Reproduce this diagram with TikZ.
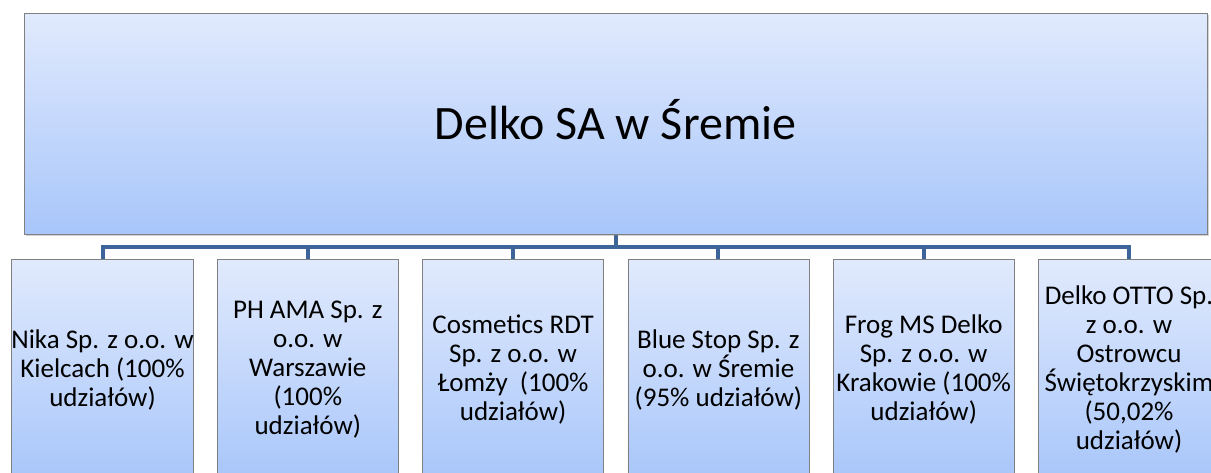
\documentclass[tikz,border=0pt]{standalone}
\usepackage{fontspec}
\setmainfont{Carlito}
\usetikzlibrary{shadows,backgrounds}
\definecolor{boxtop}{RGB}{225,234,253}
\definecolor{boxbot}{RGB}{168,198,250}
\definecolor{linkblue}{RGB}{61,101,153}

\begin{document}
\begin{tikzpicture}[x=1pt, y=-1pt,
        firm/.style={draw=black!50, top color=boxtop, bottom color=boxbot, inner sep=0pt, align=center},
        link/.style={draw=linkblue, line width=4pt}]
        \clip (0, 0) rectangle (1211, 472);
        \node[firm, minimum width=1183pt, minimum height=221pt, font=\fontsize{48}{56}\selectfont,
              text height=31pt, text depth=0pt,
              drop shadow={shadow xshift=2pt, shadow yshift=-2pt, opacity=0.35}] (top) at (615.5, 123.5) {Delko SA w Śremie};
        \foreach \t [count=\i] in {{Nika Sp. z o.o. w\\Kielcach (100\%\\udziałów)},
                {PH AMA Sp. z\\o.o. w\\Warszawie\\(100\%\\udziałów)},
                {Cosmetics RDT\\Sp. z o.o. w\\Łomży\ \ (100\%\\udziałów)},
                {Blue Stop Sp. z\\o.o. w Śremie\\(95\% udziałów)},
                {Frog MS Delko\\Sp. z o.o. w\\Krakowie (100\%\\udziałów)},
                {Delko OTTO Sp.\\z o.o. w\\Ostrowcu\\Świętokrzyskim\\(50,02\%\\udziałów)}}
            \node[firm, minimum width=181pt, minimum height=221pt, font=\fontsize{27}{29}\selectfont]
                (c\i) at ({102.5+205.3*(\i-1)}, 369.5) {\t};
        \begin{scope}[on background layer]
            \foreach \i in {1,...,6}
                \draw[link] (top.south) -- ++(0, 13) -| (c\i.north);
        \end{scope}
\end{tikzpicture}
\end{document}
